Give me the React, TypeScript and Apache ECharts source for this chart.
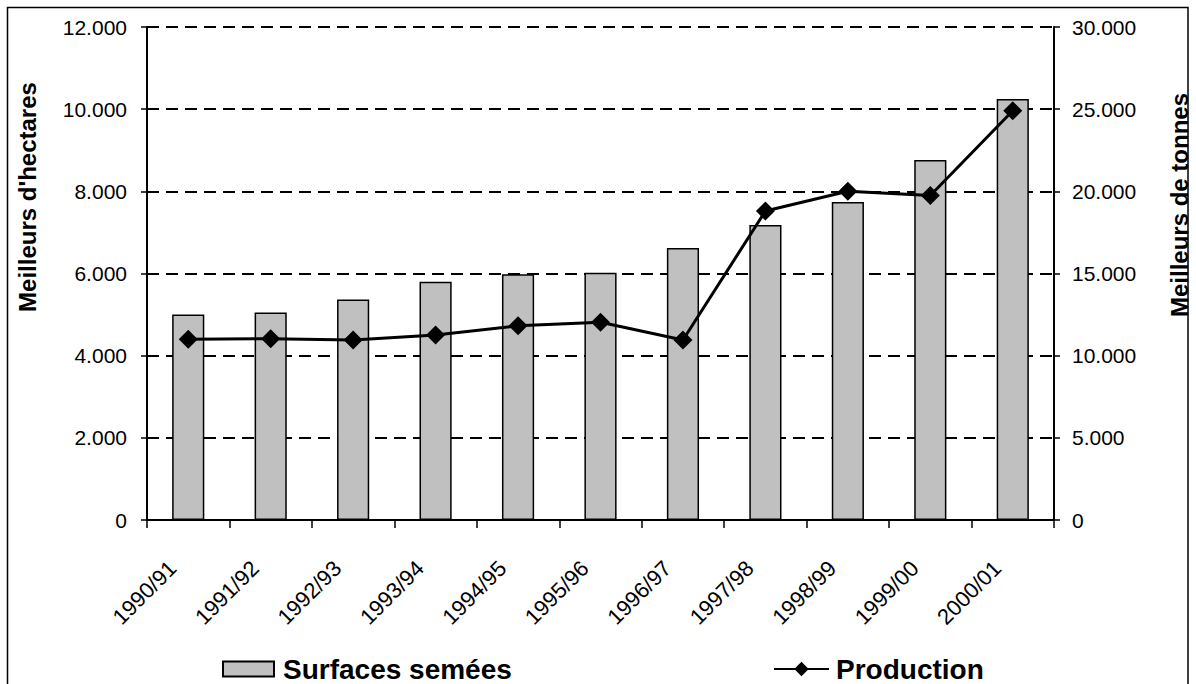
import React, { useEffect, useRef } from "react";
import * as echarts from "echarts";

// Campagnes agricoles
const categories = [
  "1990/91", "1991/92", "1992/93", "1993/94", "1994/95", "1995/96",
  "1996/97", "1997/98", "1998/99", "1999/00", "2000/01",
];
// Surfaces semées (milliers d'hectares)
const surfaces = [5000, 5050, 5370, 5800, 5980, 6020, 6620, 7180, 7740, 8760, 10250];
// Production (milliers de tonnes)
const production = [11000, 11030, 10950, 11260, 11820, 12030, 10950, 18800, 20000, 19750, 24900];

const leftName = "Meilleurs d'hectares";
const rightName = "Meilleurs de tonnes";

const FONT = "'Liberation Sans', Arial, sans-serif";

const fmt = (v: number) =>
  v === 0 ? "0" : String(v).replace(/\B(?=(\d{3})+(?!\d))/g, ".");

export default function App() {
  const ref = useRef<HTMLDivElement>(null);

  useEffect(() => {
    if (!ref.current) return;
    const chart = echarts.init(ref.current, undefined, { renderer: "svg" });

    const axisLine = { show: true, lineStyle: { color: "#000", width: 2 } };
    const axisTick = { show: true, length: 6, lineStyle: { color: "#000", width: 1.5 } };
    const labelStyle = { color: "#000", fontSize: 21, fontFamily: FONT };

    chart.setOption({
      animation: false,
      backgroundColor: "#fff",
      grid: { left: 147, right: 142, top: 27, bottom: 164, containLabel: false },
      xAxis: {
        type: "category",
        data: categories,
        boundaryGap: true,
        axisLine,
        axisTick: { ...axisTick, length: 8, alignWithLabel: false },
        axisLabel: {
          ...labelStyle,
          fontSize: 22,
          rotate: 45,
          margin: 29,
          interval: 0,
          padding: [0, 22, 0, 0],
        },
        splitLine: { show: false },
      },
      yAxis: [
        {
          type: "value",
          min: 0,
          max: 12000,
          interval: 2000,
          position: "left",
          axisLine,
          axisTick,
          axisLabel: { ...labelStyle, margin: 20, formatter: fmt },
          splitLine: {
            show: true,
            lineStyle: { color: "#000", width: 2, type: [12, 7] },
          },
        },
        {
          type: "value",
          min: 0,
          max: 30000,
          interval: 5000,
          position: "right",
          axisLine,
          axisTick,
          axisLabel: { ...labelStyle, margin: 18, formatter: fmt },
          splitLine: { show: false },
        },
      ],
      legend: [
        {
          data: ["Surfaces semées"],
          left: 222,
          top: 655,
          padding: 0,
          icon: "rect",
          itemWidth: 51,
          itemHeight: 15,
          textStyle: {
            color: "#000",
            fontSize: 28,
            fontWeight: "bold",
            fontFamily: FONT,
            padding: [0, 0, 0, 4],
          },
        },
        {
          data: ["Production"],
          left: 773,
          top: 655,
          padding: 0,
          itemWidth: 55,
          itemHeight: 18,
          textStyle: {
            color: "#000",
            fontSize: 28,
            fontWeight: "bold",
            fontFamily: FONT,
            padding: [0, 0, 0, 2],
          },
        },
      ],
      series: [
        {
          name: "Surfaces semées",
          type: "bar",
          yAxisIndex: 0,
          data: surfaces,
          barWidth: "39%",
          itemStyle: { color: "#c0c0c0", borderColor: "#000", borderWidth: 1.5 },
        },
        {
          name: "Production",
          type: "line",
          yAxisIndex: 1,
          data: production,
          symbol: "diamond",
          symbolSize: 19,
          lineStyle: { color: "#000", width: 3 },
          itemStyle: { color: "#000" },
          z: 5,
        },
      ],
      graphic: [
        {
          type: "rect",
          shape: { x: 7.5, y: 7.5, width: 1180.5, height: 700 },
          style: { fill: "none", stroke: "#000", lineWidth: 1.5 },
          silent: true,
        },
        {
          type: "text",
          x: 27,
          y: 197,
          rotation: Math.PI / 2,
          style: {
            text: leftName,
            fill: "#000",
            font: `bold 24px ${FONT}`,
            align: "center",
            verticalAlign: "middle",
          },
        },
        {
          type: "text",
          x: 1179,
          y: 205,
          rotation: Math.PI / 2,
          style: {
            text: rightName,
            fill: "#000",
            font: `bold 24px ${FONT}`,
            align: "center",
            verticalAlign: "middle",
          },
        },
      ],
    });

    return () => chart.dispose();
  }, []);

  return (
    <div
      ref={ref}
      style={{ position: "absolute", left: 0, top: 0, width: 1196, height: 684 }}
    />
  );
}
